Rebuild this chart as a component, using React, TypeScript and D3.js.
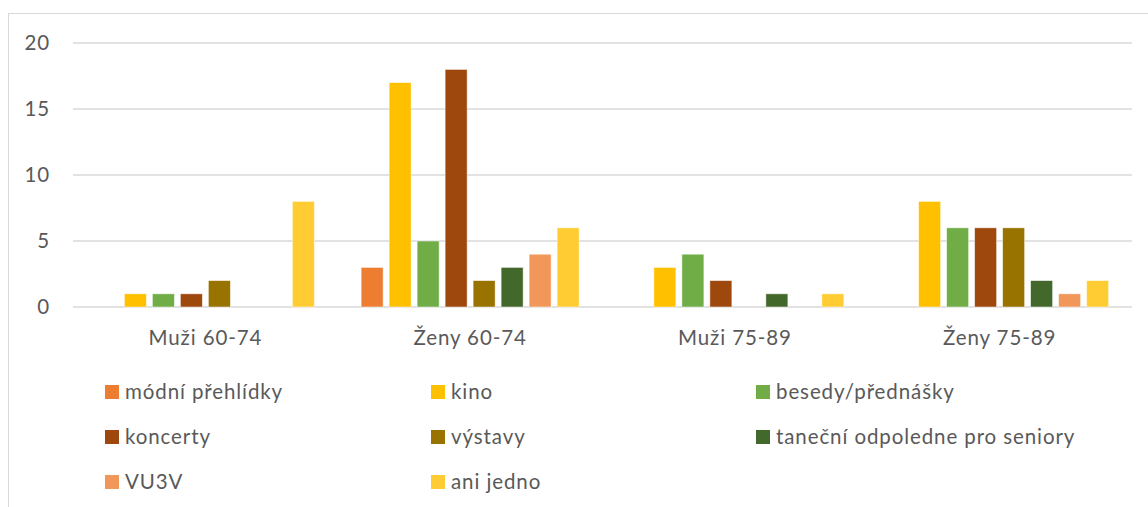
import React from "react";
import * as d3 from "d3";

const categories = ["Muži 60-74", "Ženy 60-74", "Muži 75-89", "Ženy 75-89"];
const seriesNames = [
  "módní přehlídky",
  "kino",
  "besedy/přednášky",
  "koncerty",
  "výstavy",
  "taneční odpoledne pro seniory",
  "VU3V",
  "ani jedno",
];
const seriesColors = ["#ED7D31", "#FFC000", "#70AD47", "#9E480E", "#997300", "#43682B", "#F1975A", "#FFCD33"];
const modniPrehlidky = [0, 3, 0, 0];
const kino = [1, 17, 3, 8];
const besedy = [1, 5, 4, 6];
const koncerty = [1, 18, 2, 6];
const vystavy = [2, 2, 0, 6];
const tanecni = [0, 3, 1, 2];
const vu3v = [0, 4, 0, 1];
const aniJedno = [8, 6, 1, 2];
const seriesValues = [modniPrehlidky, kino, besedy, koncerty, vystavy, tanecni, vu3v, aniJedno];
const yTicks = [0, 5, 10, 15, 20];

const W = 1148;
const H = 507;
const plotLeft = 73;
const plotRight = 1132;
const plotTop = 43;
const plotBottom = 307;
const FONT = "Lato, 'Open Sans', sans-serif";
const TEXT = "#595959";
const FS = 20.5;
const LS = 0.9;

export default function App() {
  const x = d3.scaleBand<string>().domain(categories).range([plotLeft, plotRight]).paddingInner(0).paddingOuter(0);
  const y = d3.scaleLinear().domain([0, 20]).range([plotBottom, plotTop]);
  const inner = d3
    .scaleBand<number>()
    .domain(d3.range(seriesNames.length))
    .range([0, x.bandwidth()])
    .paddingOuter(0.835)
    .paddingInner(0.214);

  const legendCols = [105, 431, 756];
  const legendRows = [392, 437, 482];

  return (
    <svg width={W} height={H} style={{ position: "absolute", left: 0, top: 0, background: "#fff" }}>
      <rect x={8.5} y={13.5} width={W + 20} height={H + 20} fill="#fff" stroke="#D9D9D9" strokeWidth={1} />
      {yTicks.map((t) => (
        <g key={t}>
          <line x1={plotLeft} x2={plotRight} y1={y(t)} y2={y(t)} stroke="#D9D9D9" strokeWidth={1.3} />
          <text x={50} y={y(t)} dy="0.35em" textAnchor="end" fontFamily={FONT} fontSize={FS} letterSpacing={LS} fill={TEXT}>
            {t}
          </text>
        </g>
      ))}
      {categories.map((c, ci) => (
        <g key={c}>
          {seriesValues.map((vals, si) => {
            const v = vals[ci];
            if (!v) return null;
            return (
              <rect
                key={si}
                x={(x(c) as number) + (inner(si) as number)}
                y={y(v)}
                width={inner.bandwidth()}
                height={y(0) - y(v)}
                fill={seriesColors[si]}
                stroke="#fff"
                strokeOpacity={0.6}
                strokeWidth={0.8}
              />
            );
          })}
          <text
            x={(x(c) as number) + x.bandwidth() / 2}
            y={338}
            dy="0.35em"
            textAnchor="middle"
            fontFamily={FONT}
            fontSize={FS}
            letterSpacing={LS}
            fill={TEXT}
          >
            {c}
          </text>
        </g>
      ))}
      {seriesNames.map((name, i) => {
        const lx = legendCols[i % 3];
        const ly = legendRows[Math.floor(i / 3)];
        return (
          <g key={name}>
            <rect x={lx} y={ly - 7} width={14} height={14} fill={seriesColors[i]} />
            <text x={lx + 20} y={ly} dy="0.35em" fontFamily={FONT} fontSize={FS} letterSpacing={LS} fill={TEXT}>
              {name}
            </text>
          </g>
        );
      })}
    </svg>
  );
}
